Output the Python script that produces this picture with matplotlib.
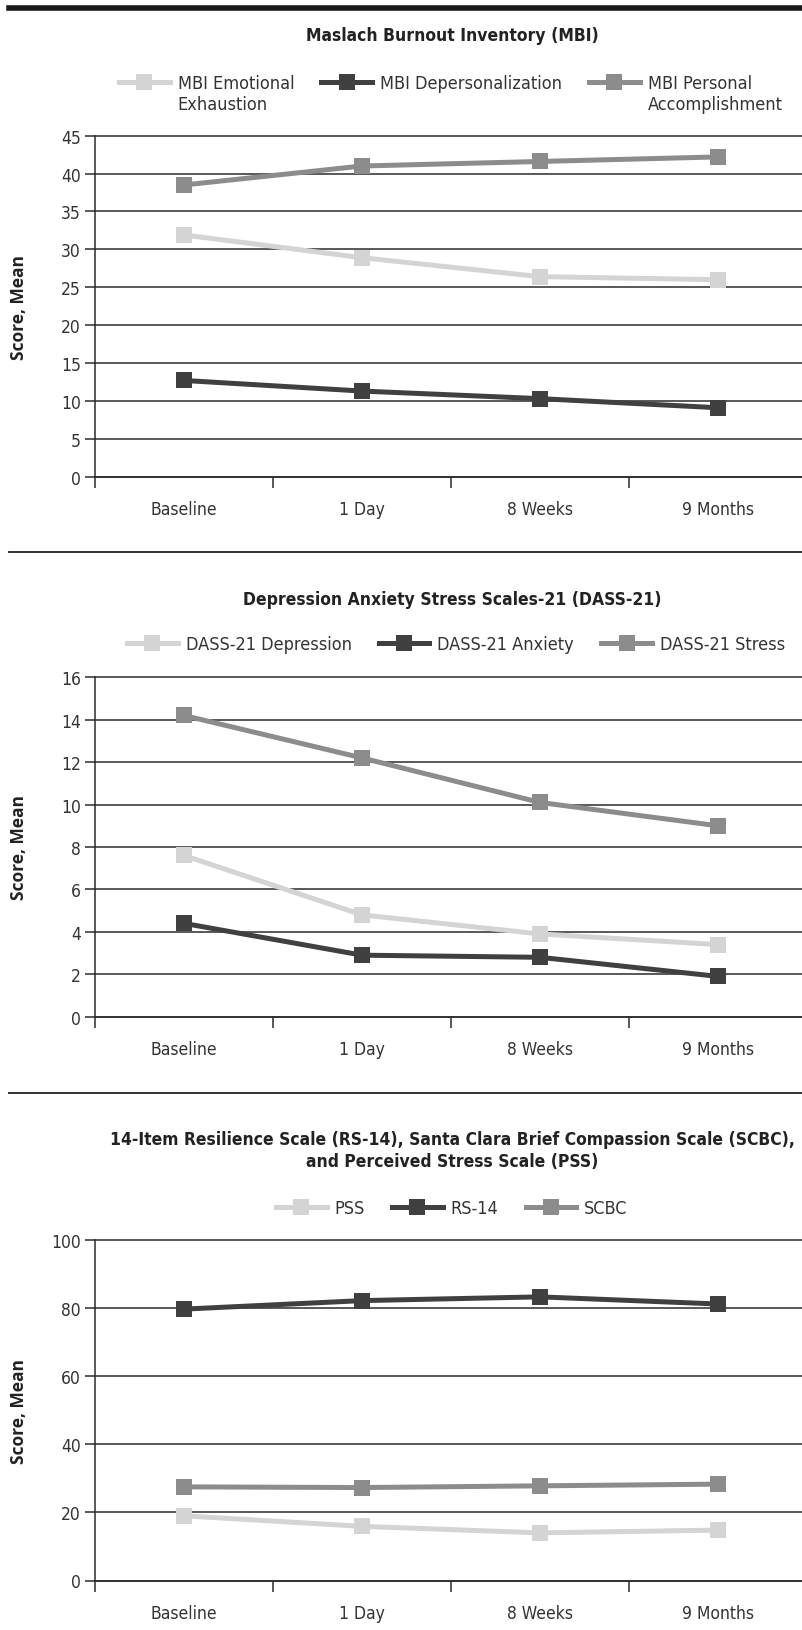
import numpy as np
import matplotlib.pyplot as plt
import matplotlib as mt
from matplotlib.lines import Line2D

#%% data
timepoints = ['Baseline', '1 Day', '8 Weeks', '9 Months']

mbi_title = 'Maslach Burnout Inventory (MBI)'
mbi_labels = ['MBI Emotional', 'MBI Depersonalization', 'MBI Personal']
mbi_second = ['Exhaustion', None, 'Accomplishment']
mbi_ee = [31.9, 28.9, 26.4, 26.0]
mbi_dp = [12.7, 11.3, 10.3, 9.1]
mbi_pa = [38.5, 41.0, 41.6, 42.2]

dass_title = 'Depression Anxiety Stress Scales-21 (DASS-21)'
dass_labels = ['DASS-21 Depression', 'DASS-21 Anxiety', 'DASS-21 Stress']
dass_dep = [7.6, 4.8, 3.9, 3.4]
dass_anx = [4.4, 2.9, 2.8, 1.9]
dass_str = [14.2, 12.2, 10.1, 9.0]

res_title = ('14-Item Resilience Scale (RS-14), Santa Clara Brief Compassion Scale (SCBC),\n'
             'and Perceived Stress Scale (PSS)')
res_labels = ['PSS', 'RS-14', 'SCBC']
pss = [19.0, 15.9, 14.0, 14.8]
rs14 = [79.7, 82.2, 83.3, 81.2]
scbc = [27.5, 27.3, 27.8, 28.3]

colors = ['#d4d4d4', '#404040', '#8c8c8c']
ink = '#2b2b2b'

#%% figure
mt.rcParams['font.family'] = ['DejaVu Sans']
mt.rcParams['font.stretch'] = 'condensed'
W, H = 802, 1631
fig = plt.figure(figsize=(W/100, H/100), dpi=100)
left = 95

def make_axes(top, bottom):
    return fig.add_axes([left/W, 1-bottom/H, 1-left/W, (bottom-top)/H])

def style_axes(ax, ymax, step):
    x = np.arange(len(timepoints))
    ax.set_xlim(-0.5, (W-left)/178 - 0.5)
    ax.set_ylim(0, ymax)
    ax.set_yticks(np.arange(0, ymax+step/2, step))
    ax.set_xticks(x - 0.5)
    ax.set_xticklabels([])
    ax.set_xticks(x, minor=True)
    ax.set_xticklabels(timepoints, minor=True)
    ax.tick_params(axis='x', which='major', length=8, width=1.1, color=ink, direction='out')
    ax.tick_params(axis='x', which='minor', length=0, pad=17, labelsize=12.5, labelcolor='#333333')
    ax.tick_params(axis='y', length=7.2, width=1.1, color=ink, direction='out', pad=3,
                   labelsize=12.5, labelcolor='#333333')
    ax.yaxis.grid(True, color=ink, lw=1.1)
    for g in ax.get_ygridlines():
        g.set_clip_on(False)
    for s in ['top', 'right']:
        ax.spines[s].set_visible(False)
    for s in ['left', 'bottom']:
        ax.spines[s].set_color(ink)
        ax.spines[s].set_linewidth(1.1)
    ax.set_ylabel('Score, Mean', family='Open Sans', fontweight='bold', fontsize=12.5,
                  stretch='normal', color='#222222', va='center')
    ax.yaxis.set_label_coords((19.5-left)/(W-left), 0.5)

def plot_series(ax, series, labels, legend_x, legend_y, second=None):
    x = np.arange(len(timepoints))
    handles = []
    for vals, c in zip(series, colors):
        h, = ax.plot(x, vals, color=c, lw=3.6, marker='s', ms=11.5, mew=0, clip_on=False, zorder=3)
        handles.append(h)
    leg = ax.legend(handles, labels, loc='center left', bbox_to_anchor=(legend_x/W, 1-legend_y/H),
                    bbox_transform=fig.transFigure, ncol=3, frameon=False, borderpad=0,
                    borderaxespad=0, handlelength=2.8, handletextpad=0.45, columnspacing=1.5,
                    numpoints=1, fontsize=13, labelcolor='#333333')
    if second is not None:
        for txt, extra in zip(leg.get_texts(), second):
            if extra:
                ax.annotate(extra, xy=(0, 0), xycoords=txt, xytext=(0, -2),
                            textcoords='offset points', ha='left', va='top', fontsize=13,
                            color='#333333', annotation_clip=False, zorder=6)

def title(text, y):
    fig.text(452/W, 1-y/H, text, ha='center', va='center', fontsize=12.5,
             fontweight='bold', color='#222222', linespacing=1.25)

# separators
fig.add_artist(Line2D([9/W, 1], [1-9/H]*2, transform=fig.transFigure, color='#1a1a1a', lw=4))
for yy in [553, 1093.5]:
    fig.add_artist(Line2D([9/W, 1], [1-yy/H]*2, transform=fig.transFigure, color='#333333', lw=1.4))

#%% panel 1
ax1 = make_axes(136.7, 477.7)
style_axes(ax1, 45, 5)
plot_series(ax1, [mbi_ee, mbi_dp, mbi_pa], mbi_labels, 119, 84, second=mbi_second)
title(mbi_title, 36)

#%% panel 2
ax2 = make_axes(678.3, 1017.7)
style_axes(ax2, 16, 2)
plot_series(ax2, [dass_dep, dass_anx, dass_str], dass_labels, 127, 645)
title(dass_title, 600)

#%% panel 3
ax3 = make_axes(1241, 1581.5)
style_axes(ax3, 100, 20)
plot_series(ax3, [pss, rs14, scbc], res_labels, 276, 1209)
title(res_title, 1151)

fig.savefig('out.png', dpi=100)
